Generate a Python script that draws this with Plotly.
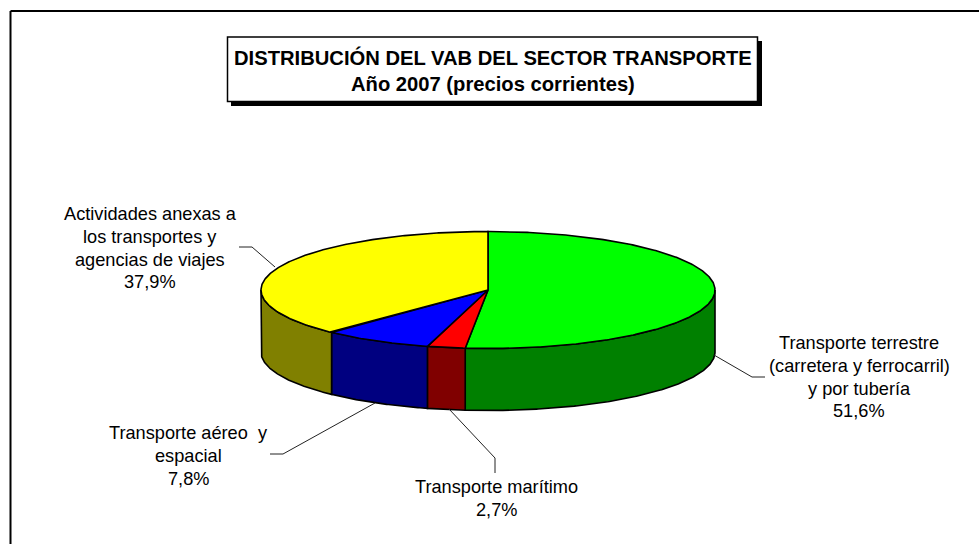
import math
import plotly.graph_objects as go

# ---- data (share of VAB, %) ----
categories = [
    "Transporte terrestre<br>(carretera y ferrocarril)<br>y por tubería",
    "Transporte marítimo",
    "Transporte aéreo  y<br>espacial",
    "Actividades anexas a<br>los transportes y<br>agencias de viajes",
]
values = [51.6, 2.7, 7.8, 37.9]
value_labels = ["51,6%", "2,7%", "7,8%", "37,9%"]
top_colors = ["#00FF00", "#FF0000", "#0000FF", "#FFFF00"]
side_colors = ["#008000", "#800000", "#000080", "#808000"]
title_lines = ["DISTRIBUCIÓN DEL VAB DEL SECTOR TRANSPORTE", "Año 2007 (precios corrientes)"]

# ---- layout ----
W, H = 979, 544
CX, CY, RX, RY, DEPTH = 488, 290, 227, 58.5, 62
FONT = "Liberation Sans"
LABEL_SIZE, LABEL_STEP = 18.2, 22.8
TITLE_SIZE, TITLE_STEP = 20.2, 27
label_pos = [(859, 343), (496, 487), (188, 433), (150, 214)]  # centre of first line
leaders = [
    [(714, 355), (752, 377), (765, 377)],
    [(449, 409), (495, 458), (495, 473)],
    [(375, 403), (283, 454), (270, 454)],
    [(275, 267), (252, 247), (239, 247)],
]


def pt(deg, drop=0.0):
    a = math.radians(deg)
    return CX + RX * math.sin(a), CY - RY * math.cos(a) + drop


def arc(a0, a1, drop=0.0):
    n = max(2, int(abs(a1 - a0) * 2))
    return [pt(a0 + (a1 - a0) * i / n, drop) for i in range(n + 1)]


fig = go.Figure()
total = sum(values)
edges = [0.0]
for v in values:
    edges.append(edges[-1] + v / total * 360)

# side walls (visible front half only)
for i, name in enumerate(categories):
    a0, a1 = max(edges[i], 90), min(edges[i + 1], 270)
    if a1 <= a0:
        continue
    poly = arc(a0, a1) + arc(a1, a0, DEPTH)
    poly.append(poly[0])
    fig.add_trace(go.Scatter(
        x=[p[0] for p in poly], y=[p[1] for p in poly], mode="lines", fill="toself",
        fillcolor=side_colors[i], line=dict(color="black", width=1.6), hoverinfo="skip", showlegend=False))

# top faces
for i, name in enumerate(categories):
    poly = [(CX, CY)] + arc(edges[i], edges[i + 1]) + [(CX, CY)]
    fig.add_trace(go.Scatter(
        x=[p[0] for p in poly], y=[p[1] for p in poly], mode="lines", fill="toself",
        fillcolor=top_colors[i], line=dict(color="black", width=1.6),
        name=name.replace("<br>", " "), text=value_labels[i], hoverinfo="name+text", showlegend=False))

# leader lines
for seg in leaders:
    fig.add_trace(go.Scatter(
        x=[p[0] for p in seg], y=[p[1] for p in seg], mode="lines",
        line=dict(color="#222222", width=1), hoverinfo="skip", showlegend=False))

# labels (one annotation per line, to hold the reference's line spacing)
for name, lab, (x, y) in zip(categories, value_labels, label_pos):
    for k, line in enumerate(name.split("<br>") + [lab]):
        fig.add_annotation(x=x, y=y + k * LABEL_STEP, xref="x", yref="y", text=line, showarrow=False,
                           font=dict(family=FONT, size=LABEL_SIZE, color="black"))

# title box with shadow
shapes = [
    dict(type="rect", x0=231, y0=41, x1=762, y1=106, fillcolor="black", line=dict(width=0)),
    dict(type="rect", x0=227.5, y0=37, x1=757.5, y1=101.5, fillcolor="white", line=dict(color="black", width=1.5)),
    dict(type="line", x0=10.5, y0=11, x1=W, y1=11, line=dict(color="black", width=2)),
    dict(type="line", x0=10.5, y0=11, x1=10.5, y1=H, line=dict(color="black", width=2)),
]
fig.update_layout(shapes=shapes)
for k, line in enumerate(title_lines):
    fig.add_annotation(x=492.5, y=57 + k * TITLE_STEP, xref="x", yref="y", text=f"<b>{line}</b>",
                       showarrow=False, font=dict(family=FONT, size=TITLE_SIZE, color="black"))

fig.update_layout(
    width=W, height=H, margin=dict(l=0, r=0, t=0, b=0),
    paper_bgcolor="white", plot_bgcolor="white",
    xaxis=dict(range=[0, W], visible=False, fixedrange=True),
    yaxis=dict(range=[H, 0], visible=False, fixedrange=True),
)
fig.write_html("out.html", config={"displayModeBar": False},
               post_script="document.body.style.margin='0';document.body.style.overflow='hidden';")
